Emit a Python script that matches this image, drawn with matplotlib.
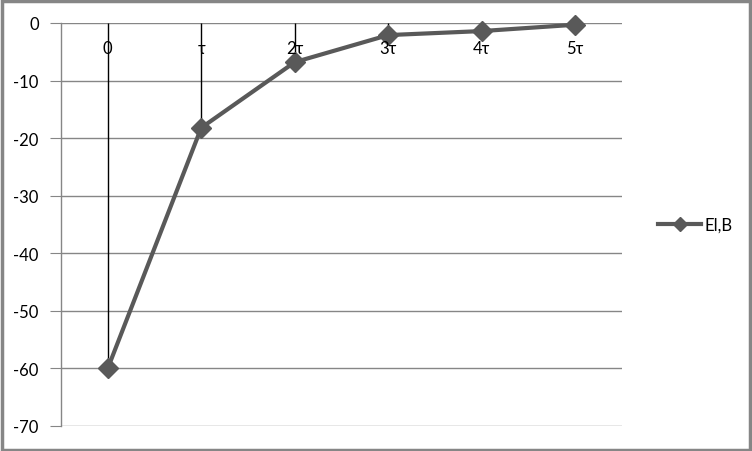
import matplotlib
matplotlib.use("Agg")
import matplotlib.pyplot as plt
from matplotlib.lines import Line2D
from matplotlib.patches import Rectangle

categories = ["0", "τ", "2τ", "3τ", "4τ", "5τ"]
values = [-60, -18.2, -6.8, -2.1, -1.4, -0.3]
series_name = "El,B"
yticks = [0, -10, -20, -30, -40, -50, -60, -70]

W, H = 752, 452
fig = plt.figure(figsize=(W / 100, H / 100), dpi=100)
plt.rcParams['font.family'] = ['Lato', 'DejaVu Sans']

# axes placement in pixels
left, right, top, bottom = 61, 622, 24, 427
ax = fig.add_axes([left / W, 1 - bottom / H, (right - left) / W, (bottom - top) / H])

x = [i + 0.5 for i in range(len(categories))]
ax.set_xlim(0, len(categories))
ax.set_ylim(-70, 0)

for yv in yticks:
    ax.axhline(yv, color="#868686", lw=1, zorder=1)

# drop lines from 0 to value
ax.vlines(x, values, 0, color="black", lw=1, zorder=2)

color = "#595959"
ax.plot(x, values, color=color, lw=3, marker="D", markersize=10.5, zorder=3, clip_on=False)

# category labels inside plot, under zero line
for xi, c in zip(x, categories):
    ax.text(xi, -4.4, c, ha="center", va="center", fontsize=12, color="black", zorder=4)

ax.set_xticks([])
ax.set_yticks(yticks)
ax.set_yticklabels([str(v) for v in yticks], fontsize=12)
ax.tick_params(axis="y", direction="out", length=8, color="#868686", pad=8)
for s in ["top", "right", "bottom"]:
    ax.spines[s].set_visible(False)
ax.spines["left"].set_color("#868686")
ax.spines["left"].set_linewidth(1)

# legend
h = Line2D([0], [0], color=color, lw=3, marker="D", markersize=7)
leg = fig.legend([h], [series_name], loc="center left", bbox_to_anchor=(643 / W, 1 - 226 / H),
                 frameon=False, fontsize=12, handlelength=2.6, handletextpad=0.2)

# chart area border
fig.patches.append(Rectangle((0.002, 0.003), 0.995, 0.993, transform=fig.transFigure,
                             fill=False, edgecolor="#868686", lw=2.5))

fig.savefig("out.png", dpi=100)
